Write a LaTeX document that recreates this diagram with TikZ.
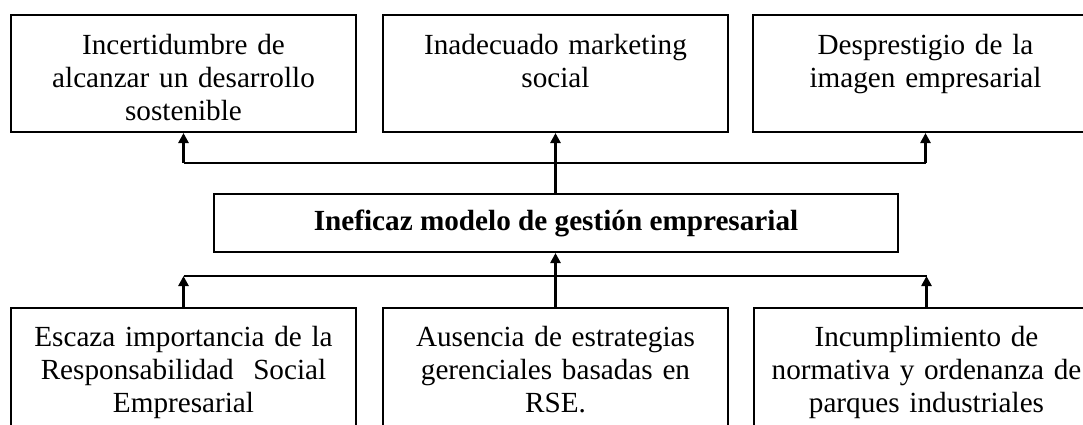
\documentclass[tikz,border=0pt]{standalone}
\usepackage{fontspec}
\setmainfont{Liberation Serif}
\usetikzlibrary{arrows.meta,positioning,calc}

\begin{document}
\begin{tikzpicture}[x=0.5pt,y=-0.5pt,
    every node/.style={font=\fontsize{14.6}{16.5}\selectfont},
    effectbox/.style={draw,line width=1pt,anchor=north west,align=center,
        text width=164.5pt,inner xsep=4pt,inner ysep=0pt,
        text height=19.5pt,text depth=39pt},
    causebox/.style={effectbox,text height=19pt,text depth=50pt},
    corebox/.style={draw,line width=1pt,anchor=north west,
        minimum width=342pt,minimum height=29pt,inner sep=0pt,
        font=\fontsize{14.6}{16.5}\selectfont\bfseries},
    busline/.style={line width=1pt},
    uparrow/.style={line width=1.3pt,-{Triangle[length=5pt,width=5pt]}}]
    \useasboundingbox (0,0) rectangle (1083,424);
    % effects
    \node[effectbox] (t1) at (10,14) {Incertidumbre de\\alcanzar un desarrollo\\sostenible};
    \node[effectbox] (t2) at (382,14) {Inadecuado marketing\\social};
    \node[effectbox] (t3) at (752,14) {Desprestigio de la\\imagen empresarial};
    % problem
    \node[corebox] (mid) at (213,193) {Ineficaz modelo de gesti\'on empresarial};
    % causes
    \node[causebox] (b1) at (10,307) {Escaza importancia de la\\Responsabilidad\ \ Social\\Empresarial};
    \node[causebox] (b2) at (382,307) {Ausencia de estrategias\\gerenciales basadas en\\RSE.};
    \node[causebox] (b3) at (753,307) {Incumplimiento de\\normativa y ordenanza de\\parques industriales};
    \coordinate (topbus) at (552,163);
    \coordinate (botbus) at (552,276);
    % connectors
    \draw[busline] (topbus -| t1.south) -- (topbus -| t3.south);
    \foreach \n in {1,3}
        \draw[uparrow] (topbus -| t\n.south) -- (t\n.south);
    \draw[uparrow] (mid.north -| t2.south) -- (t2.south);
    \draw[busline] (botbus -| b1.north) -- (botbus -| b3.north);
    \foreach \n in {1,3}
        \draw[uparrow] (b\n.north) -- (botbus -| b\n.north);
    \draw[uparrow] (b2.north) -- (mid.south -| b2.north);
\end{tikzpicture}
\end{document}
